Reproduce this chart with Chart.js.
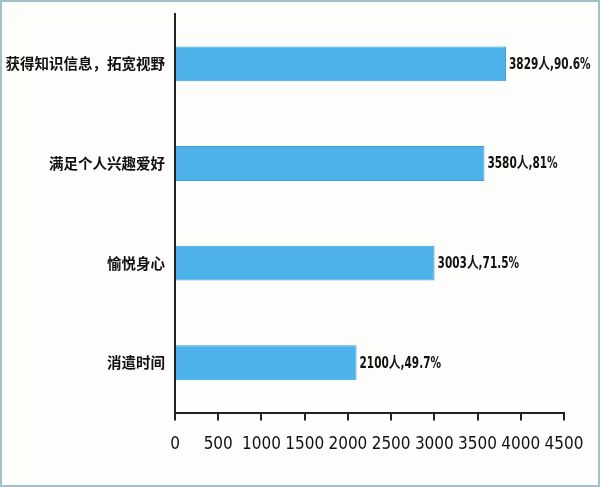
<!DOCTYPE html>
<html>
<head>
<meta charset="utf-8">
<script src="https://cdn.jsdelivr.net/npm/chart.js@4"></script>
<style>
  html, body { margin: 0; padding: 0; background: #fff; }
  #wrap {
    position: relative; width: 600px; height: 487px; box-sizing: border-box;
    border: 2px solid #9fc3c6; background: #fdfdfb;
  }
  canvas { position: absolute; left: -2px; top: -2px; }
</style>
</head>
<body>
<div id="wrap"><canvas id="chart" width="600" height="487"></canvas></div>
<script>
const categories = ["获得知识信息，拓宽视野", "满足个人兴趣爱好", "愉悦身心", "消遣时间"];
const people = [3829, 3580, 3003, 2100];
const percents = ["90.6", "81", "71.5", "49.7"];

const FONT = "'DejaVu Sans Condensed', 'Noto Sans CJK SC', sans-serif";
const CJK = "'Noto Sans CJK SC', sans-serif";

const valueLabels = {
    id: "valueLabels",
    afterDatasetsDraw(chart) {
        const ctx = chart.ctx;
        const meta = chart.getDatasetMeta(0);
        ctx.save();
        ctx.fillStyle = "#111";
        ctx.font = "bold 15px " + FONT;
        ctx.textAlign = "left";
        ctx.textBaseline = "middle";
        meta.data.forEach((bar, i) => {
            // squeeze the text horizontally like the narrow font in the original
            ctx.save();
            ctx.translate(bar.x + 3, bar.y + 1);
            ctx.scale(0.78, 1);
            ctx.fillText(people[i] + "人," + percents[i] + "%", 0, 0);
            ctx.restore();
        });
        ctx.restore();
    }
};

new Chart(document.getElementById("chart"), {
    type: "bar",
    data: {
        labels: categories,
        datasets: [{
            data: people,
            backgroundColor: "#4db2ea",
            borderColor: "#3a9fd8",
            borderWidth: 1,
            barPercentage: 0.5,
            categoryPercentage: 0.7,
        }],
    },
    options: {
        indexAxis: "y",
        responsive: false,
        animation: false,
        layout: { padding: { top: 14, right: 36, left: 0, bottom: 18 } },
        plugins: { legend: { display: false }, tooltip: { enabled: false } },
        scales: {
            x: {
                min: 0,
                max: 4500,
                ticks: {
                    stepSize: 500, maxRotation: 0, autoSkip: false, color: "#111", padding: 14,
                    font: { family: FONT, size: 17 },
                    callback: (v) => String(v),
                },
                grid: { drawOnChartArea: false, tickLength: 8, color: "#222", lineWidth: 2 },
                border: { color: "#222", width: 2 },
            },
            y: {
                afterFit(scale) {
                    scale.width = 175;
                    scale.paddingTop = 0;
                    scale.paddingBottom = 0;
                },
                ticks: { color: "#111", padding: 10, font: { family: CJK, size: 14.5, weight: "bold" } },
                grid: { display: false, drawTicks: false },
                border: { color: "#222", width: 2 },
            },
        },
    },
    plugins: [valueLabels],
});
</script>
</body>
</html>
